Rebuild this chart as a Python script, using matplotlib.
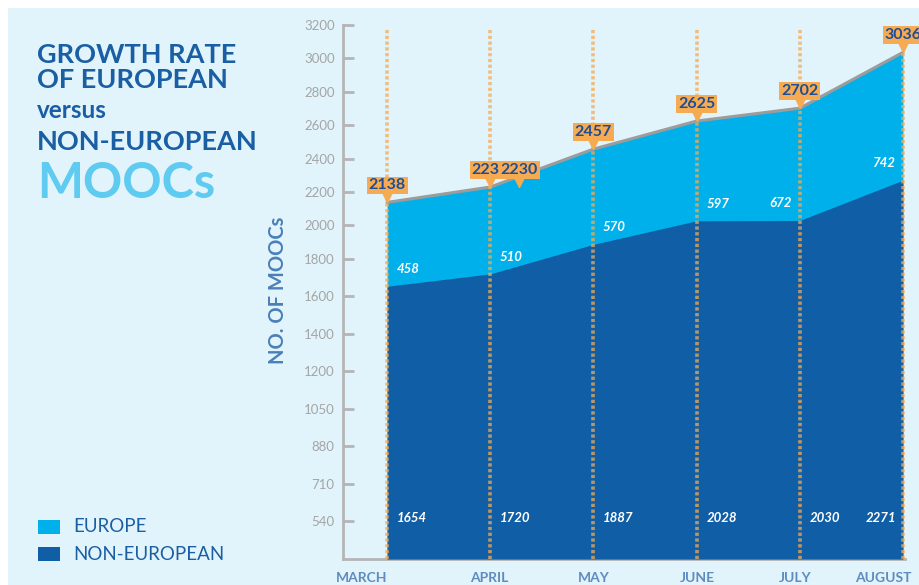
import numpy as np
import matplotlib
matplotlib.use("Agg")
import matplotlib.pyplot as plt
from matplotlib.patches import Rectangle
from matplotlib import transforms

# ---- data ----
months = ["MARCH", "APRIL", "MAY", "JUNE", "JULY", "AUGUST"]
non_european = [1654, 1720, 1887, 2028, 2030, 2271]
europe = [458, 510, 570, 597, 672, 742]
totals = [2138, 2230, 2457, 2625, 2702, 3036]
y_ticks = [540, 710, 880, 1050, 1200, 1400, 1600, 1800, 2000,
           2200, 2400, 2600, 2800, 3000, 3200]

# ---- style ----
BG = "#e1f4fb"
LIGHT = "#00b0ea"
DARK = "#0f5ea6"
NAVY = "#1a5ea3"
ORANGE = "#f6ab52"
FONT = "Lato"

W, H = 920, 585
fig = plt.figure(figsize=(W / 100, H / 100), dpi=100)
fig.patch.set_facecolor("white")
fig.patches.append(Rectangle((8 / W, 0), 1, 1 - 8 / H, transform=fig.transFigure,
                             facecolor=BG, edgecolor="none", zorder=-10))

# Piecewise-linear value axis: wider steps below 1800, narrower above
breaks = [370] + y_ticks
steps = [37.5] * 8 + [33.4] * 7
pos = np.concatenate([[0.0], np.cumsum(steps)])


def fwd(v):
    return np.interp(v, breaks, pos, left=-1e3, right=1e4)


def inv(p):
    return np.interp(p, pos, breaks)


ax = fig.add_axes([343 / W, 26 / H, (905 - 343) / W, (559 - 25) / H])
ax.set_facecolor("none")
ax.set_yscale("function", functions=(fwd, inv))

x = np.arange(len(months))
y0 = breaks[0]
ax.set_ylim(y0, 3200)
ax.set_xlim(-0.427, 5.02)

ax.fill_between(x, y0, totals, color=LIGHT, lw=0, zorder=1)
ax.fill_between(x, y0, non_european, color=DARK, lw=0, zorder=2)
ax.plot(x, totals, color="#9c9c9c", lw=2.2, zorder=3, solid_capstyle="round")

# dotted month guides
for xi in x:
    ax.plot([xi, xi], [y0, 3180], color=ORANGE, lw=2.6, alpha=0.75,
            linestyle=(0, (0.9, 0.7)), zorder=4)

# total value tags (April's tag is printed twice, side by side)
tags = list(zip(x, totals)) + [(x[1], totals[1])]
shifts = [0] * len(x) + [29]
for (xi, v), dx in zip(tags, shifts):
    t2 = transforms.offset_copy(ax.transData, fig=fig, x=dx, y=6, units="dots")
    ax.plot([xi], [v], marker="v", ms=8, color=ORANGE, transform=t2, zorder=6,
            clip_on=False)
    ax.annotate(str(v), (xi, v), xytext=(dx, 17), textcoords="offset pixels",
                ha="center", va="center", fontsize=11.5, fontweight="bold",
                family=FONT, color="#1d4e96", zorder=7, annotation_clip=False,
                bbox=dict(boxstyle="square,pad=0.12", fc=ORANGE, ec="none"))

# Europe band labels
for i, (xi, base, val) in enumerate(zip(x, non_european, europe)):
    dx = 21 if i < 4 else -19
    ax.annotate(str(val), (xi, base), xytext=(dx, 17), textcoords="offset pixels",
                ha="center", va="center", fontsize=9.5, fontweight="bold",
                fontstyle="italic", family=FONT, color="white", zorder=5)

# Non-European labels near the bottom
blend = transforms.blended_transform_factory(ax.transData, ax.transAxes)
for i, (xi, val) in enumerate(zip(x, non_european)):
    dx = 25 if i < 5 else -22
    ax.annotate(str(val), (xi, 0.077), xycoords=blend, xytext=(dx, 0),
                textcoords="offset pixels", ha="center", va="center",
                fontsize=9.5, fontweight="bold", fontstyle="italic",
                family=FONT, color="white", zorder=5)

# axes styling
for s in ["top", "right"]:
    ax.spines[s].set_visible(False)
for s in ["left", "bottom"]:
    ax.spines[s].set_color("#b5b5b5")
    ax.spines[s].set_linewidth(2)
    ax.spines[s].set_zorder(0)

ax.set_yticks(y_ticks)
ax.set_yticklabels([str(t) for t in y_ticks], family=FONT, fontsize=9.5,
                   color="#a5a5a5")
ax.yaxis.set_minor_locator(matplotlib.ticker.NullLocator())
ax.tick_params(axis="y", direction="in", length=8, width=2, color="#b5b5b5", pad=6)

ax.set_xticks(x)
ax.set_xticklabels(months, family=FONT, fontsize=10, fontweight="bold",
                   color="#5e8cc0")
ax.tick_params(axis="x", length=0, pad=9)
label_shift = [-25, -1, 0, 1, -5, -20]
for lab, d in zip(ax.get_xticklabels(), label_shift):
    lab.set_transform(lab.get_transform() +
                      transforms.ScaledTranslation(d / 100, 0, fig.dpi_scale_trans))

fig.text(278 / W, 1 - 290 / H, "NO. OF MOOCs", rotation=90, ha="center",
         va="center", family=FONT, fontsize=14.5, fontweight="bold",
         color="#4a7fb8")


# heading
def px(xp, yp):
    return xp / W, 1 - yp / H


fig.text(*px(37, 63), "GROWTH RATE", family=FONT, fontsize=19.5,
         fontweight="bold", color=NAVY, va="baseline")
fig.text(*px(37, 88), "OF EUROPEAN", family=FONT, fontsize=19.5,
         fontweight="bold", color=NAVY, va="baseline")
fig.text(*px(37, 118), "versus", family=FONT, fontsize=17.5,
         fontweight="bold", color=NAVY, va="baseline")
fig.text(*px(37, 150), "NON-EUROPEAN", family=FONT, fontsize=19.5,
         fontweight="bold", color=NAVY, va="baseline")
fig.text(*px(37, 198), "MOOCs", family=FONT, fontsize=35,
         fontweight="bold", color="#5fcbf0", va="baseline")

# legend
for yc, col, name in [(527, LIGHT, "EUROPE"), (554, DARK, "NON-EUROPEAN")]:
    fig.patches.append(Rectangle((38 / W, 1 - (yc + 7) / H), 22 / W, 14 / H,
                                 transform=fig.transFigure, facecolor=col,
                                 edgecolor="none"))
    fig.text(*px(73, yc), name, family=FONT, fontsize=13.5, color=NAVY,
             va="center")

fig.savefig("out.png", dpi=100, facecolor=fig.get_facecolor())
